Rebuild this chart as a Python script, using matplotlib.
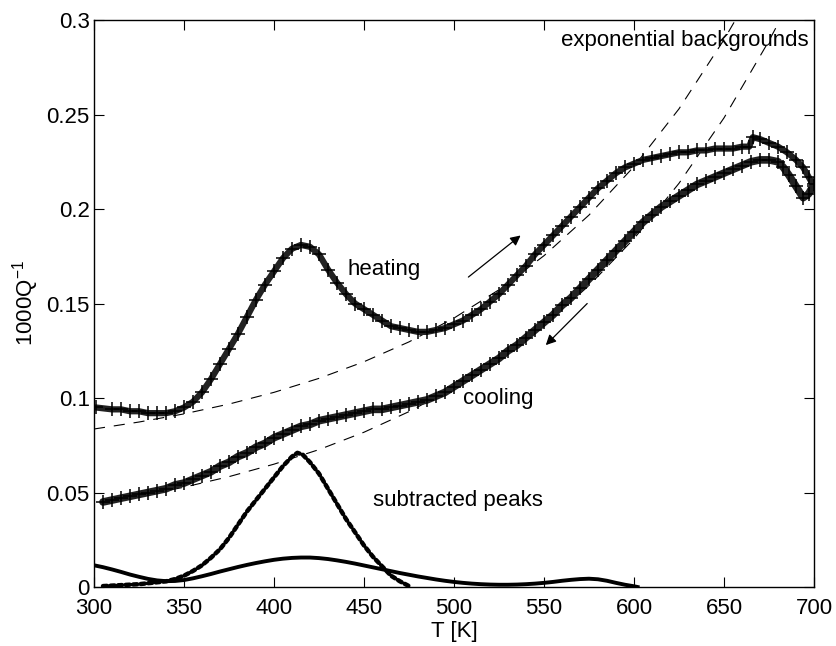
import matplotlib
matplotlib.use("Agg")
import matplotlib.pyplot as plt
import numpy as np

plt.rcParams['font.family'] = ['Liberation Sans', 'DejaVu Sans']
plt.rcParams['mathtext.fontset'] = 'custom'
plt.rcParams['mathtext.rm'] = 'Liberation Sans'
plt.rcParams['mathtext.it'] = 'Liberation Sans:italic'

# ---- data ----
heat_T = [301, 310, 315, 320, 325, 330, 335, 340, 345, 350, 355, 360, 365, 370, 375,
          380, 385, 390, 395, 400, 405, 410, 415, 420, 425, 430, 435, 440, 445, 450,
          455, 460, 465, 470, 475, 480, 485, 490, 495, 500, 505, 510, 515, 520, 525,
          530, 535, 540, 545, 550, 555, 560, 565, 570, 575, 580, 585, 590, 595, 600,
          605, 610, 615, 620, 625, 630, 635, 640, 645, 650, 655, 660, 664, 666, 670,
          675, 680, 685, 690, 694, 697, 700]
heat_Q = [0.095, 0.094, 0.094, 0.093, 0.093, 0.092, 0.092, 0.092, 0.093, 0.095, 0.098,
          0.103, 0.110, 0.118, 0.126, 0.134, 0.143, 0.152, 0.160, 0.167, 0.174, 0.179,
          0.181, 0.180, 0.176, 0.168, 0.161, 0.155, 0.150, 0.147, 0.144, 0.141, 0.138,
          0.137, 0.136, 0.135, 0.135, 0.136, 0.137, 0.139, 0.141, 0.144, 0.147, 0.151,
          0.155, 0.160, 0.165, 0.170, 0.176, 0.181, 0.186, 0.191, 0.196, 0.201, 0.206,
          0.211, 0.215, 0.219, 0.222, 0.224, 0.226, 0.227, 0.228, 0.229, 0.230, 0.230,
          0.231, 0.231, 0.232, 0.232, 0.232, 0.233, 0.233, 0.238, 0.237, 0.235, 0.233,
          0.230, 0.226, 0.222, 0.217, 0.212]

cool_T = [700, 697, 694, 690, 686, 683, 680, 675, 670, 665, 660, 655, 650, 645, 640,
          635, 630, 625, 620, 615, 610, 605, 600, 595, 590, 585, 580, 575, 570, 565,
          560, 555, 550, 545, 540, 535, 530, 525, 520, 515, 510, 505, 500, 495, 490,
          485, 480, 475, 470, 465, 460, 455, 450, 445, 440, 435, 430, 425, 420, 415,
          410, 405, 400, 395, 390, 385, 380, 375, 370, 365, 360, 355, 350, 345, 340,
          335, 330, 325, 320, 315, 310, 305]
cool_Q = [0.213, 0.208, 0.206, 0.212, 0.218, 0.222, 0.225, 0.226, 0.226, 0.225, 0.223,
          0.221, 0.219, 0.217, 0.215, 0.213, 0.210, 0.207, 0.204, 0.201, 0.197, 0.193,
          0.188, 0.183, 0.178, 0.173, 0.168, 0.163, 0.158, 0.153, 0.149, 0.144, 0.140,
          0.136, 0.132, 0.128, 0.125, 0.121, 0.118, 0.115, 0.112, 0.109, 0.106, 0.103,
          0.101, 0.099, 0.098, 0.097, 0.096, 0.095, 0.094, 0.094, 0.093, 0.092, 0.091,
          0.090, 0.089, 0.088, 0.086, 0.085, 0.083, 0.081, 0.079, 0.076, 0.074, 0.071,
          0.069, 0.066, 0.064, 0.061, 0.059, 0.057, 0.055, 0.054, 0.052, 0.051, 0.050,
          0.049, 0.048, 0.047, 0.046, 0.045]

bgh_T = [300, 325, 350, 375, 400, 425, 450, 475, 500, 525, 550, 575, 600, 625, 650, 660]
bgh_Q = [0.0836, 0.0873, 0.0916, 0.0968, 0.1030, 0.1104, 0.1192, 0.1297, 0.1423,
         0.1573, 0.1753, 0.1968, 0.2225, 0.253, 0.2896, 0.306]

bgc_T = [310, 325, 350, 375, 400, 425, 450, 475, 500, 525, 550, 575, 600, 625, 650, 675, 685]
bgc_Q = [0.0456, 0.0481, 0.0528, 0.0584, 0.0650, 0.0727, 0.0819, 0.0928, 0.1055,
         0.1206, 0.1384, 0.1595, 0.1843, 0.2136, 0.2482, 0.289, 0.307]

pkh_T = [305, 315, 325, 330, 335, 340, 345, 350, 355, 360, 365, 370, 375, 380, 385,
         390, 395, 400, 405, 410, 413, 416, 420, 425, 430, 435, 440, 445, 450, 455,
         460, 465, 470, 476]
pkh_Q = [0.0005, 0.001, 0.0015, 0.002, 0.0025, 0.003, 0.0042, 0.006, 0.0085, 0.0115,
         0.0155, 0.020, 0.026, 0.033, 0.040, 0.046, 0.052, 0.058, 0.064, 0.069, 0.071,
         0.070, 0.066, 0.060, 0.052, 0.044, 0.036, 0.029, 0.022, 0.016, 0.011, 0.006,
         0.003, 0.0]

pkc_T = [300, 305, 310, 315, 320, 325, 330, 335, 340, 345, 350, 355, 360, 365, 370,
         375, 380, 385, 390, 395, 400, 405, 410, 415, 420, 425, 430, 435, 440, 445,
         450, 455, 460, 465, 470, 475, 480, 485, 490, 495, 500, 505, 510, 515, 520,
         525, 530, 535, 540, 545, 550, 555, 560, 565, 570, 575, 580, 585, 590, 595,
         600, 602]
pkc_Q = [0.0115, 0.0105, 0.0093, 0.0080, 0.0066, 0.0054, 0.0043, 0.0035, 0.0031,
         0.0032, 0.0037, 0.0046, 0.0057, 0.0069, 0.0082, 0.0094, 0.0106, 0.0117,
         0.0127, 0.0136, 0.0144, 0.0150, 0.0154, 0.0156, 0.0156, 0.0153, 0.0148,
         0.0141, 0.0133, 0.0124, 0.0114, 0.0104, 0.0094, 0.0084, 0.0074, 0.0065,
         0.0056, 0.0048, 0.0040, 0.0033, 0.0027, 0.0022, 0.0018, 0.0015, 0.0013,
         0.0012, 0.0012, 0.0013, 0.0015, 0.0018, 0.0022, 0.0027, 0.0033, 0.0038,
         0.0042, 0.0044, 0.0041, 0.0033, 0.0022, 0.0012, 0.0004, 0.0]

xticks = [300, 350, 400, 450, 500, 550, 600, 650, 700]
yticks = [0, 0.05, 0.1, 0.15, 0.2, 0.25, 0.3]
ytick_labels = ['0', '0.05', '0.1', '0.15', '0.2', '0.25', '0.3']

# ---- figure ----
fig = plt.figure(figsize=(8.37, 6.46), dpi=100)
ax = fig.add_axes([0.1123, 0.0913, 0.8602, 0.8777])

dash = (0, (10, 8))
ax.plot(bgh_T, bgh_Q, color='black', lw=0.8, linestyle=dash)
ax.plot(bgc_T, bgc_Q, color='black', lw=0.8, linestyle=dash)

ax.plot(heat_T, heat_Q, color='#222222', lw=4.5, solid_capstyle='round')
ax.plot(heat_T, heat_Q, color='black', lw=0, marker='+', ms=10, mew=1.1)
ax.plot(cool_T, cool_Q, color='#222222', lw=5.5, solid_capstyle='round')
ax.plot(cool_T, cool_Q, color='black', lw=0, marker='+', ms=10, mew=1.1)

ax.plot(pkh_T, pkh_Q, color='black', lw=3.2, linestyle=(0, (0.9, 0.8)),
        dash_capstyle='round')
ax.plot(pkc_T, pkc_Q, color='black', lw=2.8)

ax.set_xlim(300, 700)
ax.set_ylim(0, 0.3)
ax.set_xticks(xticks)
ax.set_xticklabels([str(t) for t in xticks])
ax.set_yticks(yticks)
ax.set_yticklabels(ytick_labels)
ax.tick_params(direction='in', length=7, width=0.8, top=True, right=True,
               labelsize=16)
ax.tick_params(axis='x', pad=8)
ax.tick_params(axis='y', pad=3)
for s in ax.spines.values():
    s.set_linewidth(1.0)

ax.set_xlabel('T [K]', fontsize=16, labelpad=1)
ax.set_ylabel('1000Q$^{-1}$', fontsize=16, labelpad=4)

fs = 16
ax.text(441, 0.168, 'heating', fontsize=fs, ha='left', va='center')
ax.text(505, 0.100, 'cooling', fontsize=fs, ha='left', va='center')
ax.text(455, 0.046, 'subtracted peaks', fontsize=fs, ha='left', va='center')
ax.text(697, 0.289, 'exponential backgrounds', fontsize=fs, ha='right', va='center')

ax.annotate('', xy=(537, 0.186), xytext=(508, 0.164),
            arrowprops=dict(arrowstyle='-|>', color='black', lw=0.9,
                            mutation_scale=15, shrinkA=0, shrinkB=0))
ax.annotate('', xy=(551, 0.128), xytext=(574, 0.150),
            arrowprops=dict(arrowstyle='-|>', color='black', lw=0.9,
                            mutation_scale=15, shrinkA=0, shrinkB=0))

fig.savefig('out.png', dpi=100)
